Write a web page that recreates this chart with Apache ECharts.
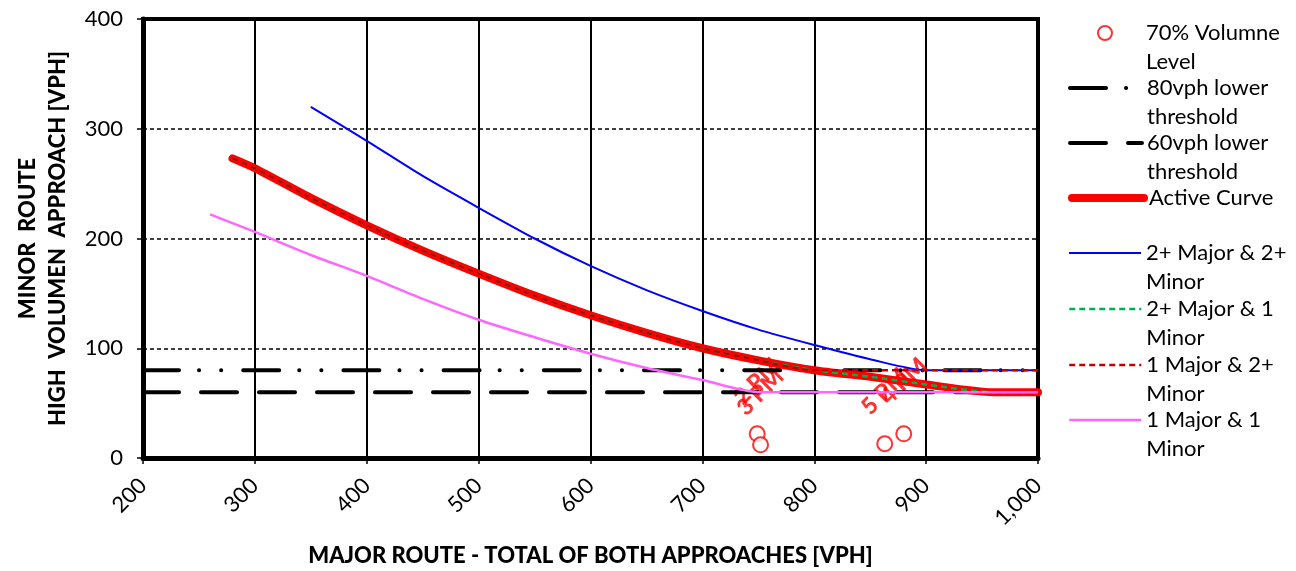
<!DOCTYPE html>
<html>
<head>
<meta charset="utf-8">
<script src="https://cdn.jsdelivr.net/npm/echarts@6/dist/echarts.min.js"></script>
<style>
    html, body { margin: 0; padding: 0; background: #fff; }
    #chart { width: 1296px; height: 571px; }
</style>
</head>
<body>
<div id="chart"></div>
<script>

// data

const thresholdX = [200, 1000];
const threshold80 = [80, 80];
const threshold60 = [60, 60];

const curveX = [280, 300, 350, 400, 450, 500, 550, 600, 650, 700, 750, 800, 850, 900, 960, 1000];
const activeCurve = [273, 264, 237, 212, 189, 168, 148, 130, 114, 100, 89, 80, 74, 67, 60, 60];
const oneMajorTwoMinor = [273, 264, 237, 212, 189, 168, 148, 130, 114, 100, 89, 80, 80, 80, 80, 80];

const blueX = [350, 400, 450, 500, 550, 600, 650, 700, 750, 800, 850, 900, 950, 1000];
const twoMajorTwoMinor = [320, 289, 257, 228, 200, 175, 153, 134, 117, 103, 90, 80, 80, 80];

const pinkX = [260, 300, 350, 400, 450, 500, 550, 600, 650, 700, 750, 800, 850, 900, 950, 1000];
const oneMajorOneMinor = [222, 206, 185, 166, 145, 126, 110, 95, 82, 71, 60, 60, 60, 60, 60, 60];

const volumeX = [749, 752, 863, 880];
const volumeY = [22, 12, 13, 22];
const volumeLabels = ['2 PM', '3 PM', '5 PM', '4 PM'];

const FONT = 'Lato';
const LEG_LINE = 28.7;

const pairs = (xs, ys) => xs.map((x, i) => [x, ys[i]]);

const chart = echarts.init(document.getElementById('chart'));

// one legend per entry; a blank line on top keeps the icon on the first text line
function legendItem(name, firstLineY, icon) {
    const wrapped = name.indexOf('\n') > -1;
    const item = {
        data: [name],
        orient: 'vertical',
        left: 1068,
        top: firstLineY - (wrapped ? 1.5 : 0.5) * LEG_LINE,
        padding: 0,
        itemWidth: 72,
        itemHeight: 14,
        selectedMode: false,
        formatter: n => (wrapped ? ' \n' : '') + n,
        textStyle: {
            fontFamily: FONT,
            fontSize: 22,
            color: '#000',
            lineHeight: LEG_LINE
        },
        lineStyle: { width: 'inherit' },
        itemStyle: { opacity: 0 }
    };
    if (icon) {
        // symbol icon: narrow box centred in the swatch column, text pushed right
        item.data = [{ name, icon }];
        item.itemWidth = 14;
        item.left = 1097;
        item.itemStyle = {};
        item.formatter = n => ' \n' + n.split('\n').map(l => '{s|}' + l).join('\n');
        item.textStyle.rich = { s: { width: 29, lineHeight: LEG_LINE } };
    }
    return item;
}

const option = {
    animation: false,
    backgroundColor: '#fff',
    grid: {
        left: 143,
        right: 258,
        top: 19,
        bottom: 113,
        show: true,
        borderColor: '#000',
        borderWidth: 4,
        outerBoundsMode: 'none'
    },
    legend: [
        legendItem('70% Volumne\nLevel', 33, 'emptyCircle'),
        legendItem('80vph lower\nthreshold', 88),
        legendItem('60vph lower\nthreshold', 143),
        legendItem('Active Curve', 198),
        legendItem('2+ Major & 2+\nMinor', 253),
        legendItem('2+ Major & 1\nMinor', 309),
        legendItem('1 Major & 2+\nMinor', 365),
        legendItem('1 Major & 1\nMinor', 420)
    ],
    xAxis: {
        type: 'value',
        min: 200,
        max: 1000,
        interval: 100,
        name: 'MAJOR ROUTE - TOTAL OF BOTH APPROACHES [VPH]',
        nameLocation: 'middle',
        nameGap: 87,
        nameTextStyle: { fontFamily: FONT, fontWeight: 900, fontSize: 22, color: '#000' },
        axisLine: { show: true, onZero: false, lineStyle: { color: '#000', width: 5 } },
        axisTick: { show: true, length: 6, lineStyle: { color: '#000', width: 1.5 } },
        axisLabel: {
            rotate: 45,
            margin: 24,
            fontFamily: FONT,
            fontSize: 22,
            color: '#000',
            formatter: v => v.toLocaleString('en-US')
        },
        splitLine: { show: true, lineStyle: { color: '#000', width: 2, type: 'solid' } }
    },
    yAxis: {
        type: 'value',
        min: 0,
        max: 400,
        interval: 100,
        name: 'MINOR  ROUTE\nHIGH  VOLUMEN  APPROACH [VPH]',
        nameLocation: 'middle',
        nameGap: 70,
        nameTextStyle: { fontFamily: FONT, fontWeight: 900, fontSize: 22, lineHeight: 30, color: '#000' },
        axisLine: { show: true, lineStyle: { color: '#000', width: 5 } },
        axisTick: { show: true, length: 6, lineStyle: { color: '#000', width: 1.5 } },
        axisLabel: { margin: 20, fontFamily: FONT, fontSize: 22, color: '#000' },
        splitLine: { show: true, lineStyle: { color: '#000', width: 1.5, type: [4, 3] } }
    },
    series: [
        {
            name: '80vph lower\nthreshold',
            type: 'line',
            data: pairs(thresholdX, threshold80),
            symbol: 'none',
            lineStyle: { color: '#000', width: 4, type: [36, 20, 0.1, 22, 0.1, 22], cap: 'round' }
        },
        {
            name: '60vph lower\nthreshold',
            type: 'line',
            data: pairs(thresholdX, threshold60),
            symbol: 'none',
            lineStyle: { color: '#000', width: 4, type: [36, 22], cap: 'round' }
        },
        {
            name: 'Active Curve',
            type: 'line',
            data: pairs(curveX, activeCurve),
            symbol: 'none',
            smooth: 0.25,
            lineStyle: { color: '#FF0000', width: 8, cap: 'round', join: 'round' }
        },
        {
            name: '2+ Major & 2+\nMinor',
            type: 'line',
            data: pairs(blueX, twoMajorTwoMinor),
            symbol: 'none',
            smooth: 0.25,
            lineStyle: { color: '#0000FF', width: 2 }
        },
        {
            name: '2+ Major & 1\nMinor',
            type: 'line',
            data: pairs(curveX, activeCurve),
            symbol: 'none',
            smooth: 0.25,
            lineStyle: { color: '#00B050', width: 2.5, type: [6, 4] }
        },
        {
            name: '1 Major & 2+\nMinor',
            type: 'line',
            data: pairs(curveX, oneMajorTwoMinor),
            symbol: 'none',
            smooth: 0.25,
            lineStyle: { color: '#C00000', width: 2.5, type: [6, 4] }
        },
        {
            name: '1 Major & 1\nMinor',
            type: 'line',
            data: pairs(pinkX, oneMajorOneMinor),
            symbol: 'none',
            smooth: 0.25,
            lineStyle: { color: '#FF66FF', width: 2.5 }
        },
        {
            name: '70% Volumne\nLevel',
            type: 'scatter',
            symbol: 'emptyCircle',
            symbolSize: 15,
            itemStyle: { color: '#FF0000', borderColor: '#FF0000', borderWidth: 1.5 },
            data: volumeX.map((x, i) => ({ value: [x, volumeY[i]], name: volumeLabels[i] })),
            label: {
                show: true,
                formatter: '{b}',
                fontFamily: FONT,
                fontWeight: 900,
                fontSize: 23,
                color: '#FF0000'
            },
            labelLayout: params => ({
                x: params.rect.x + params.rect.width / 2,
                y: params.rect.y - 44,
                rotate: 45,
                align: 'center',
                verticalAlign: 'middle'
            })
        }
    ]
};

chart.setOption(option);

</script>
</body>
</html>
